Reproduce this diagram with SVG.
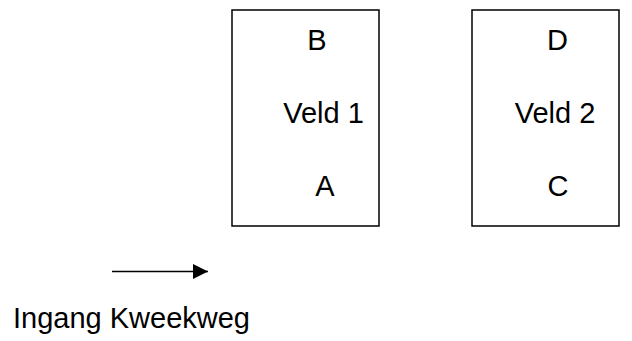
<svg xmlns="http://www.w3.org/2000/svg" width="632" height="341" viewBox="0 0 632 341">
<style>
.box{fill:#fff;stroke:#000;stroke-width:1.5}
.t{font-family:"Liberation Sans",Arial,sans-serif;font-size:29px;fill:#000;text-anchor:middle}
.con{stroke:#000;stroke-width:1.5;fill:none}
</style>
<defs>
<marker id="ah" markerUnits="userSpaceOnUse" markerWidth="16" markerHeight="16" refX="15" refY="7.5" orient="auto">
<path d="M0,0 L15,7.5 L0,15 Z" fill="#000"/>
</marker>
</defs>
<rect width="632" height="341" fill="#fff"/>
<g id="veld1">
<rect class="box" x="232" y="10" width="147" height="216"/>
<text class="t" x="317" y="49.5">B</text>
<text class="t" x="323.5" y="123">Veld 1</text>
<text class="t" x="325" y="196">A</text>
</g>
<g id="veld2">
<rect class="box" x="472" y="10" width="147" height="216"/>
<text class="t" x="557.5" y="49.5">D</text>
<text class="t" x="555" y="123">Veld 2</text>
<text class="t" x="558" y="196">C</text>
</g>
<g id="connectors">
<line class="con" x1="112" y1="271.5" x2="208" y2="271.5" marker-end="url(#ah)"/>
</g>
<g id="ingang">
<text class="t" x="13" y="328" style="text-anchor:start">Ingang Kweekweg</text>
</g>
</svg>
